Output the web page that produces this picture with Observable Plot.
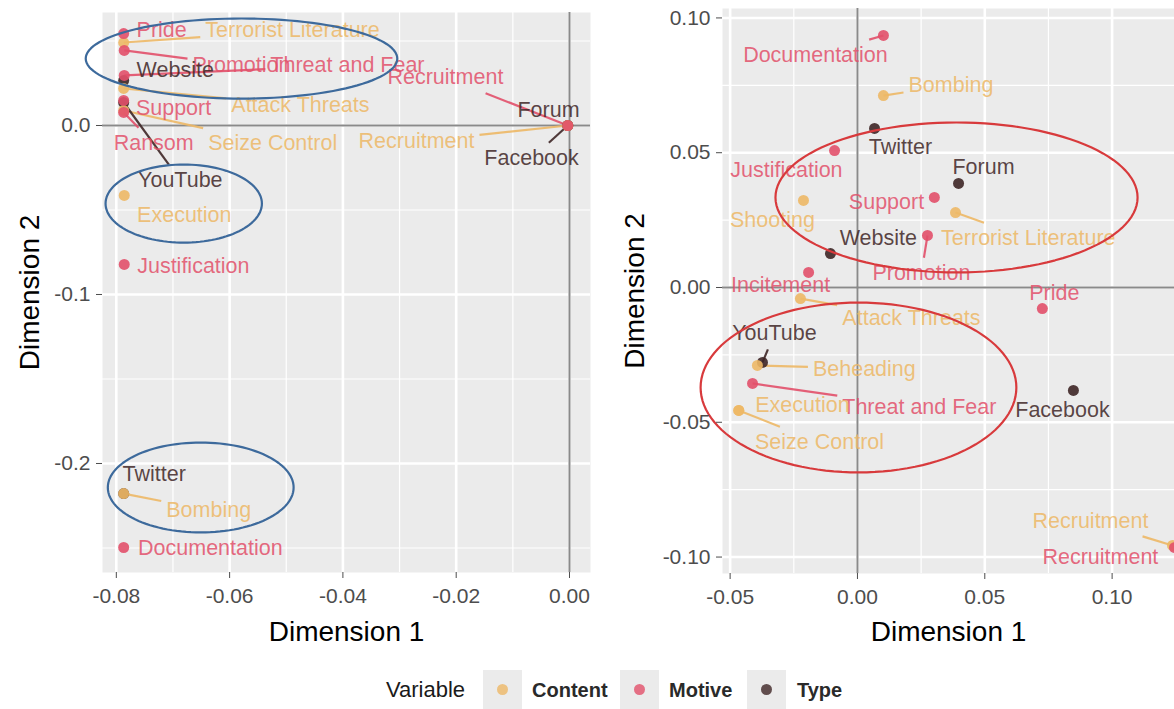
<!DOCTYPE html>
<html><head><meta charset="utf-8">
<script src="https://cdn.jsdelivr.net/npm/d3@7"></script>
<script src="https://cdn.jsdelivr.net/npm/@observablehq/plot@0.6"></script>
<style>
body{margin:0;background:#fff;font-family:"Liberation Sans",Arial,sans-serif;}
#wrap{position:relative;width:1174px;height:709px;overflow:hidden;background:#fff;}
#left{position:absolute;left:0;top:0;}
#right{position:absolute;left:600px;top:0;}
#legend{position:absolute;top:670px;left:0;width:1174px;height:39px;color:#1a1a1a;}
#legend .title{position:absolute;left:386px;top:8px;font-size:22px;line-height:24px;}
#legend .key{position:absolute;top:0;width:39px;height:39px;background:#EBEBEB;}
#legend .key span{position:absolute;left:14px;top:14px;width:11px;height:11px;border-radius:50%;}
#legend .lab{position:absolute;top:9px;font-size:20px;line-height:22px;font-weight:bold;color:#2a2a2a;}
</style></head><body>
<div id="wrap"><div id="left"></div><div id="right"></div><div id="legend"></div></div>
<script>
// ---------- legend / colours ----------
const variables = ["Content", "Motive", "Type"];
const variableColors = ["#EDB866", "#E2506A", "#3E2626"];
const legendKeyLeft = [483, 620, 747];
const legendLabelLeft = [532, 669, 797];

// ---------- left panel data ----------
const leftNames = ["Pride","Terrorist Literature","Promotion","Threat and Fear","Website","Attack Threats","Support","Seize Control","Ransom","YouTube","Recruitment","Recruitment","Forum","Facebook","Execution","Justification","Twitter","Bombing","Documentation"];
const leftVariable = ["Motive","Content","Motive","Motive","Type","Content","Motive","Content","Motive","Type","Motive","Content","Type","Type","Content","Motive","Type","Content","Motive"];
const leftDim1 = [-0.0787,-0.0787,-0.0786,-0.0786,-0.0787,-0.0787,-0.0787,-0.0787,-0.0787,-0.0787,-0.0003,-0.0003,-0.0003,-0.0003,-0.0786,-0.0786,-0.0787,-0.0787,-0.0787];
const leftDim2 = [0.0544,0.0491,0.0444,0.0296,0.0266,0.0219,0.0148,0.0089,0.0077,0.0136,0,0,0,0,-0.0414,-0.0822,-0.2178,-0.2178,-0.2497];
const leftLabelDim1 = [-0.0720,-0.0489,-0.0579,-0.0392,-0.0696,-0.0475,-0.0699,-0.0524,-0.0734,-0.0687,-0.0219,-0.0270,-0.0037,-0.0067,-0.0680,-0.0664,-0.0733,-0.0637,-0.0634];
const leftLabelDim2 = [0.0562,0.0562,0.0355,0.0355,0.0325,0.0118,0.0101,-0.0107,-0.0107,-0.0325,0.0284,-0.0095,0.0089,-0.0195,-0.0533,-0.0834,-0.2065,-0.2278,-0.2503];
const leftXTicks = [-0.08,-0.06,-0.04,-0.02,0];
const leftXTickLabels = ["-0.08","-0.06","-0.04","-0.02","0.00"];
const leftXMinor = [-0.07,-0.05,-0.03,-0.01];
const leftYTicks = [0,-0.1,-0.2];
const leftYTickLabels = ["0.0","-0.1","-0.2"];
const leftYMinor = [0.05,-0.05,-0.15,-0.25];
const leftEllipseCx = [-0.0579,-0.0681,-0.0651];
const leftEllipseCy = [0.0396,-0.0462,-0.2142];
const leftEllipseRx = [0.0275,0.0138,0.0164];
const leftEllipseRy = [0.0237,0.0231,0.0266];

// ---------- right panel data ----------
const rightNames = ["Documentation","Bombing","Twitter","Justification","Forum","Support","Shooting","Terrorist Literature","Promotion","Website","Incitement","Attack Threats","Pride","YouTube","Beheading","Threat and Fear","Execution","Seize Control","Facebook","Recruitment","Recruitment"];
const rightVariable = ["Motive","Content","Type","Motive","Type","Motive","Content","Content","Motive","Type","Motive","Content","Motive","Type","Content","Motive","Content","Content","Type","Content","Motive"];
const rightDim1 = [0.0102,0.0102,0.0067,-0.0090,0.0397,0.0302,-0.0212,0.0385,0.0275,-0.0106,-0.0192,-0.0224,0.0726,-0.0373,-0.0393,-0.0412,-0.0466,-0.0466,0.0848,0.1237,0.1245];
const rightDim2 = [0.0935,0.0712,0.0590,0.0508,0.0386,0.0334,0.0323,0.0278,0.0193,0.0126,0.0056,-0.0041,-0.0078,-0.0278,-0.0289,-0.0356,-0.0456,-0.0456,-0.0382,-0.0957,-0.0965];
const rightLabelDim1 = [-0.0165,0.0367,0.0169,-0.0279,0.0495,0.0114,-0.0334,0.0671,0.0251,0.0082,-0.0302,0.0212,0.0773,-0.0326,0.0027,0.0243,-0.0216,-0.0149,0.0805,0.0915,0.0954];
const rightLabelDim2 = [0.0861,0.0750,0.0519,0.0434,0.0445,0.0315,0.0249,0.0182,0.0052,0.0182,0.0007,-0.0115,-0.0022,-0.0171,-0.0301,-0.0445,-0.0438,-0.0575,-0.0456,-0.0865,-0.1002];
const rightXTicks = [-0.05,0,0.05,0.10];
const rightXTickLabels = ["-0.05","0.00","0.05","0.10"];
const rightXMinor = [-0.025,0.025,0.075];
const rightYTicks = [-0.10,-0.05,0,0.05,0.10];
const rightYTickLabels = ["-0.10","-0.05","0.00","0.05","0.10"];
const rightYMinor = [-0.075,-0.025,0.025,0.075];
const rightEllipseCx = [0.0389,0.0004];
const rightEllipseCy = [0.0334,-0.0371];
const rightEllipseRx = [0.0711,0.0620];
const rightEllipseRy = [0.0278,0.0315];

const FONT = '"Liberation Sans", Arial, Helvetica, sans-serif';
const labelSize = 21.5;
const ctx = document.createElement("canvas").getContext("2d");
ctx.font = `${labelSize}px ${FONT}`;

function buildRows(names, vars, d1, d2, l1, l2, kx, ky) {
  const pad = 5, minSeg = 14;
  return names.map((name, i) => {
    const color = variableColors[variables.indexOf(vars[i])];
    const w = ctx.measureText(name).width;
    const hw = (w / 2 + pad) / kx, hh = (labelSize * 0.5 + pad) / ky;
    const dx = d1[i] - l1[i], dy = d2[i] - l2[i];
    const t = Math.min(dx !== 0 ? hw / Math.abs(dx) : Infinity, dy !== 0 ? hh / Math.abs(dy) : Infinity);
    const ex = l1[i] + dx * t, ey = l2[i] + dy * t;
    const len = Math.hypot((d1[i] - ex) * kx, (d2[i] - ey) * ky);
    return {name, variable: vars[i], color, order: ["Type","Content","Motive"].indexOf(vars[i]),
            x: d1[i], y: d2[i], lx: l1[i], ly: l2[i], ex, ey, seg: t < 1 && len > minSeg};
  });
}

function ellipses(cx, cy, rx, ry) {
  const pts = [];
  cx.forEach((c, k) => {
    for (let j = 0; j <= 120; j++) {
      const a = (j / 120) * 2 * Math.PI;
      pts.push({id: k, x: c + rx[k] * Math.cos(a), y: cy[k] + ry[k] * Math.sin(a)});
    }
  });
  return pts;
}

function panel(cfg) {
  const {width, height, ml, mr, mt, mb, xDomain, yDomain} = cfg;
  const kx = (width - ml - mr) / (xDomain[1] - xDomain[0]);
  const ky = (height - mt - mb) / (yDomain[1] - yDomain[0]);
  const rows = buildRows(cfg.names, cfg.vars, cfg.d1, cfg.d2, cfg.l1, cfg.l2, kx, ky);
  const dots = rows.slice().sort((a, b) => a.order - b.order);
  const xl = new Map(cfg.xTicks.map((t, i) => [t, cfg.xTickLabels[i]]));
  const yl = new Map(cfg.yTicks.map((t, i) => [t, cfg.yTickLabels[i]]));
  return Plot.plot({
    width, height, marginLeft: ml, marginRight: mr, marginTop: mt, marginBottom: mb,
    style: {fontFamily: FONT, background: "transparent", overflow: "visible"},
    x: {domain: xDomain, label: null},
    y: {domain: yDomain, label: null},
    marks: [
      Plot.frame({fill: "#EBEBEB", stroke: null}),
      Plot.ruleX(cfg.xMinor, {stroke: "#fff", strokeWidth: 1.2}),
      Plot.ruleY(cfg.yMinor, {stroke: "#fff", strokeWidth: 1.2}),
      Plot.ruleX(cfg.xTicks, {stroke: "#fff", strokeWidth: 2.6}),
      Plot.ruleY(cfg.yTicks, {stroke: "#fff", strokeWidth: 2.6}),
      Plot.ruleX([0], {stroke: "#8a8a8a", strokeWidth: 2}),
      Plot.ruleY([0], {stroke: "#8a8a8a", strokeWidth: 2}),
      Plot.link(rows.filter(d => d.seg), {x1: "x", y1: "y", x2: "ex", y2: "ey", stroke: "color", strokeWidth: 2.2, strokeOpacity: 0.9}),
      Plot.dot(dots, {x: "x", y: "y", fill: "color", r: 5.5, fillOpacity: 0.9}),
      Plot.text(rows, {x: "lx", y: "ly", text: "name", fill: "color", fontSize: labelSize, fillOpacity: 0.85}),
      Plot.line(ellipses(cfg.ecx, cfg.ecy, cfg.erx, cfg.ery), {x: "x", y: "y", z: "id", stroke: cfg.ellipseColor, strokeWidth: 2.2, curve: "linear"}),
      Plot.axisX(cfg.xTicks, {tickFormat: d => xl.get(d), fontSize: 21, tickSize: 6, tickPadding: 10, color: "#4D4D4D", label: null}),
      Plot.axisY(cfg.yTicks, {tickFormat: d => yl.get(d), fontSize: 21, tickSize: 6, tickPadding: 6, color: "#4D4D4D", label: null}),
      Plot.text(["Dimension 1"], {frameAnchor: "bottom", lineAnchor: "middle", textAnchor: "middle", dy: cfg.xTitleDy, fontSize: 28, fill: "#000"}),
      Plot.text(["Dimension 2"], {frameAnchor: "left", lineAnchor: "middle", textAnchor: "middle", rotate: -90, dx: cfg.yTitleDx, fontSize: 28, fill: "#000"})
    ]
  });
}

document.getElementById("left").appendChild(panel({
  width: 600, height: 650, ml: 102, mr: 10, mt: 12, mb: 78,
  xDomain: [-0.08244, 0.00371], yDomain: [-0.2645, 0.06686],
  names: leftNames, vars: leftVariable, d1: leftDim1, d2: leftDim2, l1: leftLabelDim1, l2: leftLabelDim2,
  xTicks: leftXTicks, xTickLabels: leftXTickLabels, xMinor: leftXMinor,
  yTicks: leftYTicks, yTickLabels: leftYTickLabels, yMinor: leftYMinor,
  ecx: leftEllipseCx, ecy: leftEllipseCy, erx: leftEllipseRx, ery: leftEllipseRy, ellipseColor: "#3D6A9C",
  xTitleDy: 60, yTitleDx: -72
}));

document.getElementById("right").appendChild(panel({
  width: 574, height: 650, ml: 122, mr: 0, mt: 8, mb: 77,
  xDomain: [-0.0530, 0.1245], yDomain: [-0.1061, 0.1035],
  names: rightNames, vars: rightVariable, d1: rightDim1, d2: rightDim2, l1: rightLabelDim1, l2: rightLabelDim2,
  xTicks: rightXTicks, xTickLabels: rightXTickLabels, xMinor: rightXMinor,
  yTicks: rightYTicks, yTickLabels: rightYTickLabels, yMinor: rightYMinor,
  ecx: rightEllipseCx, ecy: rightEllipseCy, erx: rightEllipseRx, ery: rightEllipseRy, ellipseColor: "#D83A3C",
  xTitleDy: 59, yTitleDx: -87
}));

// ---------- legend ----------
const legend = document.getElementById("legend");
const title = document.createElement("span");
title.className = "title"; title.textContent = "Variable";
legend.appendChild(title);
variables.forEach((v, i) => {
  const key = document.createElement("div"); key.className = "key"; key.style.left = legendKeyLeft[i] + "px";
  const dot = document.createElement("span"); dot.style.background = variableColors[i]; dot.style.opacity = 0.8;
  key.appendChild(dot); legend.appendChild(key);
  const lab = document.createElement("span"); lab.className = "lab"; lab.textContent = v; lab.style.left = legendLabelLeft[i] + "px";
  legend.appendChild(lab);
});
</script>
</body></html>
